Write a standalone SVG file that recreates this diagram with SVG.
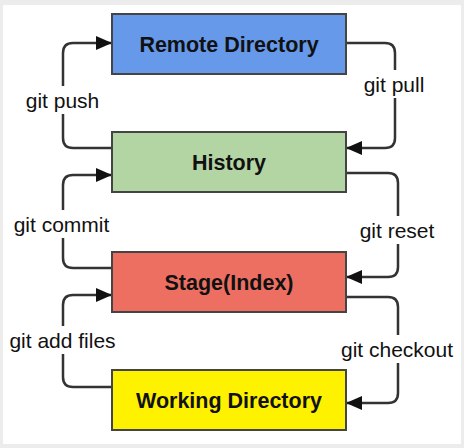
<svg xmlns="http://www.w3.org/2000/svg" width="464" height="448" viewBox="0 0 464 448">
  <defs>
    <marker id="arr" markerUnits="userSpaceOnUse" markerWidth="16" markerHeight="14" refX="16" refY="7" orient="auto">
      <path d="M0,0 L16,7 L0,14 z" fill="#111"/>
    </marker>
    <style>
      .box { stroke: #444; stroke-width: 2; }
      .title { font-family: "Liberation Sans", Arial, sans-serif; font-weight: bold; font-size: 21.5px; fill: #111; text-anchor: middle; }
      .lbl { font-family: "Liberation Sans", Arial, sans-serif; font-size: 21px; fill: #111; text-anchor: middle; }
      .conn { fill: none; stroke: #333; stroke-width: 2.5; marker-end: url(#arr); }
      .bg { fill: #fff; }
    </style>
  </defs>
  <rect x="0" y="0" width="464" height="448" fill="#ececec"/>
  <rect x="3" y="5" width="458" height="439" fill="#fff"/>

  <g id="connectors">
    <path class="conn" d="M112,148 H73 Q63,148 63,138 V53 Q63,43 73,43 H112"/>
    <path class="conn" d="M346,43 H385 Q395,43 395,53 V138 Q395,148 385,148 H346"/>
    <path class="conn" d="M112,268 H73 Q63,268 63,258 V185 Q63,175 73,175 H112"/>
    <path class="conn" d="M346,173 H388 Q398,173 398,183 V267 Q398,277 388,277 H346"/>
    <path class="conn" d="M112,387 H73 Q63,387 63,377 V305 Q63,295 73,295 H112"/>
    <path class="conn" d="M346,297 H388 Q398,297 398,307 V393 Q398,403 388,403 H346"/>
    <rect class="bg" x="22" y="86" width="82" height="28"/>
    <text class="lbl" x="62.5" y="108">git push</text>
    <rect class="bg" x="360" y="70" width="68" height="28"/>
    <text class="lbl" x="394" y="92">git pull</text>
    <rect class="bg" x="10" y="210" width="104" height="28"/>
    <text class="lbl" x="61.5" y="232">git commit</text>
    <rect class="bg" x="355" y="216" width="84" height="28"/>
    <text class="lbl" x="397" y="238">git reset</text>
    <rect class="bg" x="5" y="326" width="116" height="28"/>
    <text class="lbl" x="62.5" y="348">git add files</text>
    <rect class="bg" x="336" y="335" width="123" height="28"/>
    <text class="lbl" x="397" y="357">git checkout</text>
  </g>

  <g id="remote">
    <rect class="box" x="112" y="14" width="234" height="60" fill="#6699ea"/>
    <text class="title" x="229" y="51.5">Remote Directory</text>
  </g>
  <g id="history">
    <rect class="box" x="112" y="132" width="234" height="60" fill="#b3d4a3"/>
    <text class="title" x="229" y="169.5">History</text>
  </g>
  <g id="stage">
    <rect class="box" x="112" y="252" width="234" height="60" fill="#ec6f62"/>
    <text class="title" x="229" y="289.5">Stage(Index)</text>
  </g>
  <g id="working">
    <rect class="box" x="112" y="370" width="234" height="60" fill="#fff200"/>
    <text class="title" x="229" y="407.5">Working Directory</text>
  </g>
</svg>
